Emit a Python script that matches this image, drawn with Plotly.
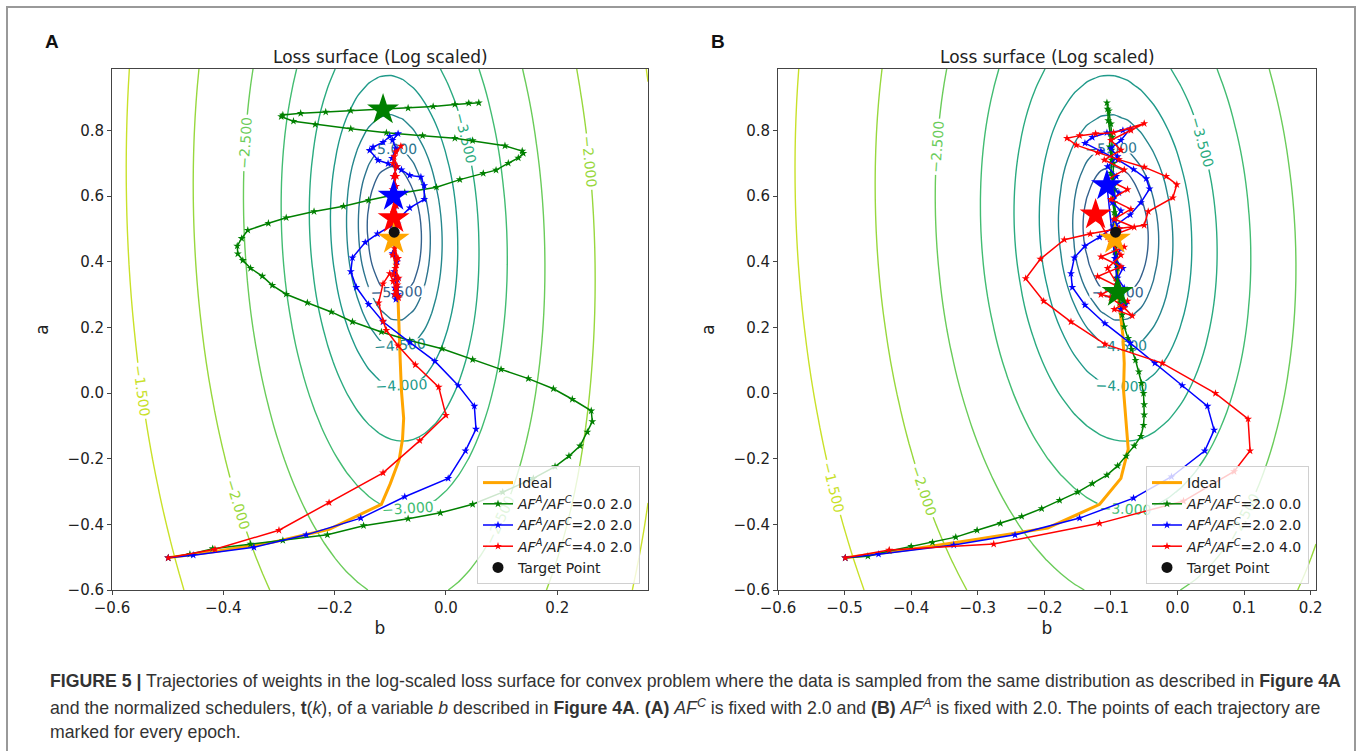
import numpy as np
import plotly.graph_objects as go
from plotly.colors import sample_colorscale

W, H = 1360, 751

# ---------------- Loss surface (log-scaled) parameters ----------------
CENTER_B = -0.093
CENTER_A = 0.49
TILT = -0.023         # shift of the ellipse centre in b per unit of a
A_STRETCH = 4.2       # ellipse elongation along a
LOSS_SCALE = 0.6      # loss = LOSS_SCALE * r**4 + LOSS_FLOOR
LOSS_FLOOR = 3e-8
CONTOUR_START, CONTOUR_END, CONTOUR_STEP = -5.5, -1.5, 0.5
VIRIDIS_LO, VIRIDIS_HI = 0.31, 0.92   # part of viridis used by the contour levels

# axis ranges
A_XRANGE = [-0.6, 0.363]
B_XRANGE = [-0.6, 0.208]
YRANGE = [-0.6, 0.987]

# ---------------- Target point ----------------
target_b, target_a = [-0.093], [0.49]

# ---------------- Panel A trajectories ----------------
A_ideal_b = [-0.499, -0.409, -0.312, -0.210, -0.116, -0.100, -0.084, -0.078, -0.076, -0.080, -0.082, -0.084, -0.086, -0.091, -0.094]
A_ideal_a = [-0.502, -0.481, -0.455, -0.415, -0.339, -0.276, -0.203, -0.140, -0.077, 0.007, 0.091, 0.175, 0.280, 0.385, 0.469]

A_green_b = [-0.499, -0.460, -0.419, -0.351, -0.293, -0.213, -0.148, -0.068, -0.010, 0.048, 0.102, 0.157, 0.196, 0.221, 0.241,
             0.254, 0.263, 0.261, 0.227, 0.193, 0.148, 0.099, 0.048, -0.007, -0.065, -0.116, -0.168, -0.206, -0.249, -0.287,
             -0.312, -0.330, -0.351, -0.365, -0.374, -0.375, -0.367, -0.356, -0.319, -0.287, -0.237, -0.184, -0.139, -0.074, -0.017,
             0.025, 0.067, 0.090, 0.112, 0.130, 0.139, 0.137, 0.106, 0.048, 0.016, -0.042, -0.107, -0.171, -0.235, -0.274,
             -0.296, -0.293, -0.261, -0.216, -0.171, -0.113, -0.068, -0.023, 0.016, 0.041, 0.059]
A_green_a = [-0.502, -0.491, -0.474, -0.460, -0.449, -0.432, -0.404, -0.383, -0.365, -0.339, -0.302, -0.260, -0.224, -0.192, -0.161,
             -0.119, -0.087, -0.054, -0.019, 0.013, 0.044, 0.072, 0.102, 0.135, 0.160, 0.186, 0.217, 0.247, 0.275, 0.301,
             0.328, 0.356, 0.380, 0.404, 0.424, 0.448, 0.471, 0.496, 0.517, 0.534, 0.553, 0.569, 0.587, 0.611, 0.627,
             0.650, 0.669, 0.679, 0.700, 0.716, 0.730, 0.737, 0.753, 0.769, 0.776, 0.784, 0.793, 0.805, 0.818, 0.828,
             0.842, 0.847, 0.852, 0.856, 0.860, 0.863, 0.868, 0.873, 0.879, 0.883, 0.884]

A_blue_b = [-0.499, -0.454, -0.345, -0.251, -0.153, -0.074, 0.004, 0.035, 0.054, 0.051, 0.022, -0.020, -0.065, -0.113, -0.139,
            -0.161, -0.171, -0.168, -0.145, -0.123, -0.097, -0.065, -0.039, -0.039, -0.045, -0.065, -0.080, -0.104, -0.122, -0.137,
            -0.131, -0.113, -0.101, -0.086, -0.096, -0.090, -0.097, -0.088, -0.094, -0.090, -0.095, -0.089, -0.093, -0.087, -0.094,
            -0.090, -0.096, -0.088, -0.093, -0.087, -0.092, -0.086, -0.090, -0.093, -0.088, -0.091, -0.094]
A_blue_a = [-0.502, -0.494, -0.470, -0.432, -0.381, -0.316, -0.260, -0.176, -0.110, -0.040, 0.023, 0.097, 0.154, 0.217, 0.270,
            0.322, 0.370, 0.412, 0.459, 0.485, 0.511, 0.564, 0.590, 0.632, 0.658, 0.663, 0.680, 0.699, 0.709, 0.739,
            0.749, 0.764, 0.782, 0.790, 0.770, 0.745, 0.715, 0.690, 0.660, 0.630, 0.600, 0.570, 0.545, 0.515, 0.485,
            0.455, 0.425, 0.400, 0.370, 0.345, 0.320, 0.300, 0.285, 0.300, 0.320, 0.345, 0.600]

A_red_b = [-0.499, -0.415, -0.300, -0.210, -0.113, -0.047, 0.000, -0.013, -0.055, -0.086, -0.107, -0.113, -0.121, -0.113, -0.101,
           -0.095, -0.090, -0.085, -0.092, -0.087, -0.094, -0.089, -0.096, -0.088, -0.093, -0.087, -0.095, -0.089, -0.097, -0.090,
           -0.094, -0.088, -0.093, -0.081, -0.090, -0.095, -0.089, -0.096, -0.090, -0.094, -0.089, -0.093, -0.087, -0.092, -0.086,
           -0.091, -0.085, -0.090, -0.086, -0.094]
A_red_a = [-0.502, -0.476, -0.418, -0.334, -0.243, -0.145, -0.068, 0.018, 0.086, 0.144, 0.191, 0.219, 0.275, 0.333, 0.364,
           0.340, 0.310, 0.290, 0.300, 0.330, 0.360, 0.390, 0.420, 0.450, 0.480, 0.510, 0.540, 0.570, 0.600, 0.630,
           0.660, 0.690, 0.720, 0.752, 0.735, 0.700, 0.660, 0.620, 0.580, 0.550, 0.520, 0.500, 0.470, 0.440, 0.410,
           0.380, 0.350, 0.320, 0.295, 0.532]

# stars marking the trajectories (panel A)
A_star_b = [-0.113, -0.094, -0.094, -0.094]
A_star_a = [0.863, 0.600, 0.532, 0.469]

# ---------------- Panel B trajectories ----------------
B_ideal_b = [-0.499, -0.400, -0.303, -0.195, -0.117, -0.085, -0.074, -0.077, -0.081, -0.080, -0.082, -0.088, -0.090, -0.094]
B_ideal_a = [-0.502, -0.476, -0.446, -0.411, -0.339, -0.260, -0.171, -0.087, 0.007, 0.091, 0.175, 0.280, 0.385, 0.469]

B_green_b = [-0.499, -0.465, -0.433, -0.400, -0.368, -0.333, -0.301, -0.266, -0.234, -0.204, -0.177, -0.150, -0.128, -0.106, -0.090,
             -0.077, -0.065, -0.055, -0.051, -0.050, -0.050, -0.051, -0.054, -0.058, -0.063, -0.069, -0.074, -0.080, -0.083, -0.087,
             -0.089, -0.092, -0.091, -0.094, -0.093, -0.096, -0.095, -0.098, -0.097, -0.100, -0.099, -0.102, -0.101, -0.104, -0.105,
             -0.106, -0.103, -0.100, -0.098, -0.099, -0.096, -0.097, -0.094, -0.095, -0.092, -0.093, -0.091, -0.092, -0.090, -0.091,
             -0.090]
B_green_a = [-0.502, -0.497, -0.481, -0.467, -0.455, -0.439, -0.418, -0.397, -0.376, -0.352, -0.327, -0.302, -0.276, -0.250, -0.222,
             -0.192, -0.161, -0.132, -0.098, -0.066, -0.035, -0.001, 0.030, 0.065, 0.100, 0.133, 0.167, 0.202, 0.238, 0.275,
             0.310, 0.350, 0.390, 0.430, 0.470, 0.510, 0.550, 0.590, 0.630, 0.670, 0.710, 0.750, 0.790, 0.830, 0.865,
             0.884, 0.860, 0.820, 0.780, 0.740, 0.700, 0.660, 0.620, 0.580, 0.540, 0.500, 0.460, 0.420, 0.380, 0.340,
             0.307]

B_blue_b = [-0.499, -0.449, -0.336, -0.244, -0.147, -0.066, -0.009, 0.041, 0.055, 0.045, 0.007, -0.034, -0.071, -0.109, -0.139,
            -0.158, -0.160, -0.155, -0.139, -0.117, -0.096, -0.071, -0.055, -0.042, -0.047, -0.066, -0.090, -0.115, -0.139, -0.128,
            -0.106, -0.082, -0.071, -0.085, -0.100, -0.090, -0.105, -0.092, -0.100, -0.088, -0.098, -0.085, -0.095, -0.087, -0.097,
            -0.085, -0.094, -0.082, -0.090, -0.080, -0.088, -0.080, -0.085, -0.078, -0.086, -0.090, -0.106]
B_blue_a = [-0.502, -0.491, -0.463, -0.432, -0.381, -0.320, -0.255, -0.176, -0.113, -0.040, 0.023, 0.091, 0.152, 0.212, 0.268,
            0.322, 0.364, 0.412, 0.448, 0.475, 0.506, 0.543, 0.580, 0.622, 0.653, 0.681, 0.711, 0.737, 0.761, 0.779,
            0.793, 0.800, 0.805, 0.770, 0.745, 0.720, 0.690, 0.660, 0.635, 0.610, 0.580, 0.555, 0.525, 0.500, 0.470,
            0.440, 0.410, 0.380, 0.350, 0.320, 0.295, 0.270, 0.255, 0.270, 0.300, 0.330, 0.632]

B_red_b = [-0.499, -0.433, -0.276, -0.117, 0.009, 0.085, 0.109, 0.106, 0.057, -0.023, -0.109, -0.160, -0.201, -0.228, -0.206,
           -0.170, -0.131, -0.088, -0.050, -0.044, -0.007, -0.001, -0.017, -0.050, -0.088, -0.120, -0.152, -0.166, -0.147, -0.123,
           -0.096, -0.050, -0.070, -0.100, -0.085, -0.110, -0.080, -0.105, -0.075, -0.100, -0.070, -0.095, -0.065, -0.105, -0.080,
           -0.115, -0.085, -0.120, -0.090, -0.115, -0.075, -0.095, -0.068, -0.080, -0.100, -0.090, -0.105, -0.085, -0.100, -0.123]
B_red_a = [-0.502, -0.478, -0.460, -0.397, -0.329, -0.239, -0.176, -0.079, -0.001, 0.091, 0.149, 0.217, 0.280, 0.349, 0.408,
           0.467, 0.485, 0.501, 0.511, 0.553, 0.595, 0.635, 0.660, 0.688, 0.711, 0.732, 0.755, 0.776, 0.784, 0.790,
           0.793, 0.821, 0.800, 0.770, 0.740, 0.710, 0.680, 0.650, 0.620, 0.590, 0.560, 0.530, 0.505, 0.475, 0.445,
           0.415, 0.385, 0.355, 0.325, 0.300, 0.280, 0.255, 0.235, 0.260, 0.290, 0.330, 0.380, 0.420, 0.460, 0.543]

B_star_b = [-0.090, -0.106, -0.123, -0.094]
B_star_a = [0.307, 0.632, 0.543, 0.469]

legendA = ["Ideal", "<i>AF</i><sup><i>A</i></sup><i>/AF</i><sup><i>C</i></sup>=0.0 2.0",
           "<i>AF</i><sup><i>A</i></sup><i>/AF</i><sup><i>C</i></sup>=2.0 2.0",
           "<i>AF</i><sup><i>A</i></sup><i>/AF</i><sup><i>C</i></sup>=4.0 2.0", "Target Point"]
legendB = ["Ideal", "<i>AF</i><sup><i>A</i></sup><i>/AF</i><sup><i>C</i></sup>=2.0 0.0",
           "<i>AF</i><sup><i>A</i></sup><i>/AF</i><sup><i>C</i></sup>=2.0 2.0",
           "<i>AF</i><sup><i>A</i></sup><i>/AF</i><sup><i>C</i></sup>=2.0 4.0", "Target Point"]

COL_IDEAL, COL_G, COL_B, COL_R = "#ffa500", "#008000", "#0000ff", "#ff0000"
FONT = "DejaVu Sans"

# contour colorscale: the slice of viridis spanned by the drawn levels
_pos = np.linspace(VIRIDIS_LO, VIRIDIS_HI, 11)
CONTOUR_SCALE = [[i / 10, c] for i, c in enumerate(sample_colorscale("Viridis", list(_pos)))]


def surface(xr, nb, na):
    b = np.linspace(xr[0], xr[1], nb)
    a = np.linspace(YRANGE[0], YRANGE[1], na)
    B_, A_ = np.meshgrid(b, a)
    bc = CENTER_B + TILT * (A_ - CENTER_A)
    r2 = (B_ - bc) ** 2 + ((A_ - CENTER_A) / A_STRETCH) ** 2
    z = np.log10(LOSS_SCALE * r2 ** 2 + LOSS_FLOOR)
    return b, a, z


fig = go.Figure()


def add_panel(xa, ya, legend, xr, nb, ideal, green, blue, red, stars, names):
    b, a, z = surface(xr, nb, 33)
    fig.add_trace(go.Contour(
        x=b, y=a, z=z, xaxis=xa, yaxis=ya, showscale=False, colorscale=CONTOUR_SCALE,
        zmin=CONTOUR_START, zmax=CONTOUR_END, zauto=False, autocontour=False,
        contours=dict(coloring="lines", start=CONTOUR_START, end=CONTOUR_END, size=CONTOUR_STEP,
                      showlabels=True, labelformat=".3f", labelfont=dict(family=FONT, size=14)),
        line=dict(width=1.4, smoothing=0.6), hoverinfo="skip", showlegend=False))
    fig.add_trace(go.Scatter(x=ideal[0], y=ideal[1], mode="lines", xaxis=xa, yaxis=ya,
                             line=dict(color=COL_IDEAL, width=3), name=names[0], legend=legend))
    for (xs, ys), col, nm in zip([green, blue, red], [COL_G, COL_B, COL_R], names[1:4]):
        fig.add_trace(go.Scatter(x=xs, y=ys, mode="lines+markers", xaxis=xa, yaxis=ya,
                                 line=dict(color=col, width=1.5),
                                 marker=dict(symbol="star", size=6, color=col, line=dict(width=0)),
                                 name=nm, legend=legend))
    fig.add_trace(go.Scatter(x=stars[0], y=stars[1], mode="markers", xaxis=xa, yaxis=ya,
                             marker=dict(symbol="star", size=24, color=[COL_G, COL_B, COL_R, COL_IDEAL],
                                         line=dict(width=0)), showlegend=False, hoverinfo="skip"))
    fig.add_trace(go.Scatter(x=target_b, y=target_a, mode="markers", xaxis=xa, yaxis=ya,
                             marker=dict(symbol="circle", size=11, color="#111111"),
                             name=names[4], legend=legend))


add_panel("x", "y", "legend", A_XRANGE, 49, (A_ideal_b, A_ideal_a), (A_green_b, A_green_a),
          (A_blue_b, A_blue_a), (A_red_b, A_red_a), (A_star_b, A_star_a), legendA)
add_panel("x2", "y2", "legend2", B_XRANGE, 41, (B_ideal_b, B_ideal_a), (B_green_b, B_green_a),
          (B_blue_b, B_blue_a), (B_red_b, B_red_a), (B_star_b, B_star_a), legendB)

def px(x):
    return x / W

def py(y):
    return 1 - y / H

axis_common = dict(showline=True, mirror=True, linecolor="#444", linewidth=1, ticks="outside",
                   ticklen=4, tickcolor="#444", showgrid=False, zeroline=False, automargin=False,
                   tickfont=dict(family=FONT, size=15, color="#222"), tickformat=".1f")

leg_common = dict(bgcolor="rgba(255,255,255,0.8)", bordercolor="#d0d0d0", borderwidth=1,
                  font=dict(family=FONT, size=14, color="#222"), xanchor="right", yanchor="bottom",
                  itemwidth=30, tracegroupgap=0)

fig.update_layout(
    width=W, height=H, margin=dict(l=0, r=0, t=0, b=0, autoexpand=False),
    paper_bgcolor="white", plot_bgcolor="white",
    xaxis=dict(domain=[px(112), px(648)], range=A_XRANGE, tickvals=[-0.6, -0.4, -0.2, 0.0, 0.2],
               anchor="y", title=dict(text="b", font=dict(family=FONT, size=17, color="#222"), standoff=6),
               **axis_common),
    yaxis=dict(domain=[py(590), py(69)], range=YRANGE, tickvals=[-0.6, -0.4, -0.2, 0.0, 0.2, 0.4, 0.6, 0.8],
               anchor="x", title=dict(text="a", font=dict(family=FONT, size=17, color="#222"), standoff=14),
               **axis_common),
    xaxis2=dict(domain=[px(778), px(1316)], range=B_XRANGE,
                tickvals=[-0.6, -0.5, -0.4, -0.3, -0.2, -0.1, 0.0, 0.1, 0.2], anchor="y2",
                title=dict(text="b", font=dict(family=FONT, size=17, color="#222"), standoff=6),
                **axis_common),
    yaxis2=dict(domain=[py(590), py(69)], range=YRANGE, tickvals=[-0.6, -0.4, -0.2, 0.0, 0.2, 0.4, 0.6, 0.8],
                anchor="x2", title=dict(text="a", font=dict(family=FONT, size=17, color="#222"), standoff=14),
                **axis_common),
    legend=dict(x=px(640), y=py(584), **leg_common),
    legend2=dict(x=px(1309), y=py(584), **leg_common),
    showlegend=True,
)

annotations = [
    dict(x=px(380), y=py(57), text="Loss surface (Log scaled)", font=dict(family=FONT, size=17, color="#222")),
    dict(x=px(1047), y=py(57), text="Loss surface (Log scaled)", font=dict(family=FONT, size=17, color="#222")),
    dict(x=px(52), y=py(42), text="<b>A</b>", font=dict(family="Liberation Sans", size=19, color="#111")),
    dict(x=px(718), y=py(42), text="<b>B</b>", font=dict(family="Liberation Sans", size=19, color="#111")),
]
caption = [
    "<b>FIGURE 5 |</b> Trajectories of weights in the log-scaled loss surface for convex problem where the data is sampled from the same distribution as described in <b>Figure 4A</b>",
    "and the normalized schedulers, <b>t</b>(<i>k</i>), of a variable <i>b</i> described in <b>Figure 4A</b>. <b>(A)</b> <i>AF</i><sup><i>C</i></sup> is fixed with 2.0 and <b>(B)</b> <i>AF</i><sup><i>A</i></sup> is fixed with 2.0. The points of each trajectory are",
    "marked for every epoch.",
]
for i, line in enumerate(caption):
    annotations.append(dict(x=px(48), y=py(681 + 25.5 * i), xanchor="left", text=line,
                            font=dict(family="Liberation Sans", size=17.7, color="#333")))
for an in annotations:
    an.setdefault("xanchor", "center")
    an.update(xref="paper", yref="paper", yanchor="middle", showarrow=False)
fig.update_layout(annotations=annotations)

fig.add_shape(type="rect", xref="paper", yref="paper", x0=px(7), x1=px(1355), y0=-0.05, y1=py(7),
              line=dict(color="#999", width=2), layer="below")

fig.write_html("out.html")
